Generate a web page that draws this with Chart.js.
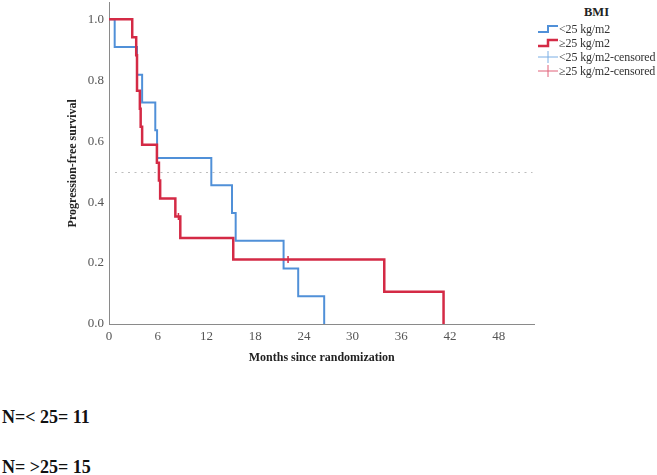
<!DOCTYPE html>
<html>
<head>
<meta charset="utf-8">
<script src="https://cdn.jsdelivr.net/npm/chart.js@4/dist/chart.umd.min.js"></script>
<style>
  html, body { margin:0; padding:0; background:#fff; }
  #wrap { position:relative; width:657px; height:475px; overflow:hidden; font-family:"Liberation Serif", "Times New Roman", serif; }
  #chartBox { position:absolute; left:0; top:-3px; width:540px; height:375px; }
  .lg { position:absolute; font-size:12px; letter-spacing:-0.15px; color:#333; white-space:nowrap; line-height:14px; }
  .lgt { position:absolute; font-size:12.5px; font-weight:bold; color:#222; }
  .note { position:absolute; left:2px; font-size:18px; font-weight:bold; color:#111; white-space:nowrap; }
  svg.ic { position:absolute; }
</style>
</head>
<body>
<div id="wrap">
  <div id="chartBox"><canvas id="c"></canvas></div>
  <div class="lgt" style="left:584px; top:5px;">BMI</div>
  <svg class="ic" style="left:537px; top:23px;" width="22" height="12"><path d="M1 9 H11 V3 H21" fill="none" stroke="#5090d8" stroke-width="2"/></svg>
  <div class="lg" style="left:559px; top:22px;">&lt;25 kg/m2</div>
  <svg class="ic" style="left:537px; top:37px;" width="22" height="12"><path d="M1 9 H11 V3 H21" fill="none" stroke="#d42a45" stroke-width="2.5"/></svg>
  <div class="lg" style="left:559px; top:36px;">≥25 kg/m2</div>
  <svg class="ic" style="left:537px; top:50px;" width="22" height="14"><path d="M1 7 H21 M11 1 V13" fill="none" stroke="#7aaee4" stroke-width="1"/></svg>
  <div class="lg" style="left:559px; top:50px;">&lt;25 kg/m2-censored</div>
  <svg class="ic" style="left:537px; top:64px;" width="22" height="14"><path d="M1 7 H21 M11 1 V13" fill="none" stroke="#e06078" stroke-width="1"/></svg>
  <div class="lg" style="left:559px; top:64px;">≥25 kg/m2-censored</div>
  <div class="note" style="top:407px;">N=&lt; 25= 11</div>
  <div class="note" style="top:457px;">N= &gt;25= 15</div>
</div>
<script>
// Kaplan-Meier step data (months, survival)
const blueTimes = [0, 0.7, 3.45, 4.08, 5.7, 5.92, 12.6, 15.15, 15.6, 21.5, 23.3, 26.5];
const blueSurv  = [1, 0.909, 0.818, 0.727, 0.636, 0.545, 0.455, 0.364, 0.273, 0.182, 0.091, 0];
const redTimes  = [0, 2.86, 3.35, 3.45, 3.45, 3.8, 3.9, 4.08, 5.9, 6.15, 6.3, 8.17, 8.78, 15.3, 33.9, 41.2];
const redSurv   = [1, 0.941, 0.882, 0.824, 0.765, 0.706, 0.647, 0.588, 0.529, 0.471, 0.412, 0.353, 0.282, 0.212, 0.106, 0];
const blueCensorTimes = [];
const blueCensorSurv  = [];
const redCensorTimes  = [8.55, 22.05];
const redCensorSurv   = [0.353, 0.212];
const xTickValues = [0, 6, 12, 18, 24, 30, 36, 42, 48];
const yTickValues = [0, 0.2, 0.4, 0.6, 0.8, 1.0];
const medianLevel = 0.5;

const pts = (t, s) => t.map((v, i) => ({x: v, y: s[i]}));
const FONT = '"Liberation Serif", "Times New Roman", serif';

const medianPlugin = {
  id: 'median',
  beforeDatasetsDraw(chart) {
    const {ctx, chartArea, scales} = chart;
    const y = scales.y.getPixelForValue(medianLevel);
    ctx.save();
    ctx.strokeStyle = '#bdbdbd';
    ctx.lineWidth = 1;
    ctx.setLineDash([2, 4.5]);
    ctx.beginPath();
    ctx.moveTo(chartArea.left + 6, Math.round(y) + 0.5);
    ctx.lineTo(chartArea.right - 2, Math.round(y) + 0.5);
    ctx.stroke();
    ctx.restore();
  }
};

new Chart(document.getElementById('c'), {
  type: 'line',
  data: {
    datasets: [
      { label: '≥25 kg/m2', data: pts(redTimes, redSurv), stepped: 'before', borderColor: '#d42a45', borderWidth: 2.5, pointRadius: 0, fill: false, order: 1 },
      { label: '<25 kg/m2', data: pts(blueTimes, blueSurv), stepped: 'before', borderColor: '#5090d8', borderWidth: 2, pointRadius: 0, fill: false, order: 2 },
      { label: '≥25 kg/m2-censored', type: 'scatter', data: pts(redCensorTimes, redCensorSurv), pointStyle: 'line', rotation: 90, radius: 3.5, borderColor: '#d42a45', borderWidth: 1.5, showLine: false, order: 0 },
      { label: '<25 kg/m2-censored', type: 'scatter', data: pts(blueCensorTimes, blueCensorSurv), pointStyle: 'line', rotation: 90, radius: 3.5, borderColor: '#5090d8', borderWidth: 1.5, showLine: false, order: 0 }
    ]
  },
  options: {
    responsive: true,
    maintainAspectRatio: false,
    animation: false,
    layout: { padding: { left: 0, right: 4, top: 0, bottom: 0 } },
    plugins: { legend: { display: false }, tooltip: { enabled: false } },
    scales: {
      x: {
        type: 'linear', min: 0, max: 52.4,
        grid: { display: false, drawTicks: false },
        border: { display: true, color: '#8a8a8a', width: 1 },
        afterBuildTicks: s => { s.ticks = xTickValues.map(v => ({value: v})); },
        afterFit: s => { s.height = 48; s.paddingLeft = 0; s.paddingRight = 0; },
        ticks: { color: '#555', font: { family: FONT, size: 13 }, padding: 5, maxRotation: 0, autoSkip: false },
        title: { display: true, text: 'Months since randomization', color: '#222', font: { family: FONT, size: 12, weight: 'bold' }, padding: { top: 0, bottom: 6.8 } }
      },
      y: {
        type: 'linear', min: 0, max: 1.055,
        grid: { display: false, drawTicks: false },
        border: { display: true, color: '#8a8a8a', width: 1 },
        afterBuildTicks: s => { s.ticks = yTickValues.map(v => ({value: v})); },
        afterFit: s => { s.width = 109; s.paddingTop = 0; s.paddingBottom = 0; },
        ticks: { color: '#555', font: { family: FONT, size: 13 }, padding: 5, callback: v => Number(v).toFixed(1) },
        title: { display: true, text: 'Progression-free survival', color: '#222', font: { family: FONT, size: 12, weight: 'bold' }, padding: { top: 65.8, bottom: 0 } }
      }
    }
  },
  plugins: [medianPlugin]
});
</script>
</body>
</html>
